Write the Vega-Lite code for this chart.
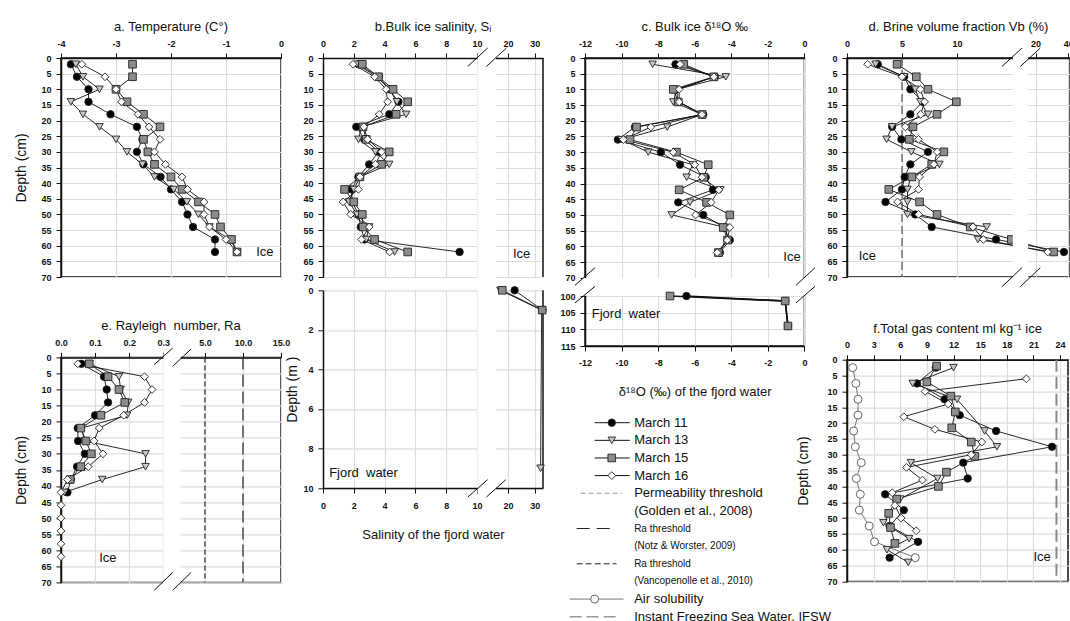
{
"$schema":"https://vega.github.io/schema/vega-lite/v6.json",
"background":"white",
"padding":{"left":14,"top":20,"right":0,"bottom":0},
"bounds":"flush",
"spacing":262,
"datasets":{
"a":[
{"date":"March 11","depth":2,"v":-3.82},{"date":"March 11","depth":6,"v":-3.71},{"date":"March 11","depth":10,"v":-3.5},{"date":"March 11","depth":14,"v":-3.5},{"date":"March 11","depth":18,"v":-3.1},{"date":"March 11","depth":22,"v":-2.62},{"date":"March 11","depth":26,"v":-2.52},{"date":"March 11","depth":30,"v":-2.62},{"date":"March 11","depth":34,"v":-2.5},{"date":"March 11","depth":38,"v":-2.19},{"date":"March 11","depth":42,"v":-2.0},{"date":"March 11","depth":46,"v":-1.8},{"date":"March 11","depth":50,"v":-1.7},{"date":"March 11","depth":54,"v":-1.6},{"date":"March 11","depth":58,"v":-1.2},{"date":"March 11","depth":62,"v":-1.2},
{"date":"March 13","depth":2,"v":-3.73},{"date":"March 13","depth":6,"v":-3.6},{"date":"March 13","depth":10,"v":-3.3},{"date":"March 13","depth":14,"v":-3.82},{"date":"March 13","depth":18,"v":-3.6},{"date":"March 13","depth":22,"v":-3.3},{"date":"March 13","depth":26,"v":-3.0},{"date":"March 13","depth":30,"v":-2.8},{"date":"March 13","depth":34,"v":-2.52},{"date":"March 13","depth":38,"v":-2.3},{"date":"March 13","depth":42,"v":-1.95},{"date":"March 13","depth":46,"v":-1.71},{"date":"March 13","depth":50,"v":-1.5},{"date":"March 13","depth":54,"v":-1.3},{"date":"March 13","depth":58,"v":-0.92},{"date":"March 13","depth":62,"v":-0.8},
{"date":"March 15","depth":2,"v":-2.7},{"date":"March 15","depth":6,"v":-2.7},{"date":"March 15","depth":10,"v":-3.0},{"date":"March 15","depth":14,"v":-2.8},{"date":"March 15","depth":18,"v":-2.5},{"date":"March 15","depth":22,"v":-2.2},{"date":"March 15","depth":26,"v":-2.5},{"date":"March 15","depth":30,"v":-2.42},{"date":"March 15","depth":34,"v":-2.3},{"date":"March 15","depth":38,"v":-2.0},{"date":"March 15","depth":42,"v":-1.8},{"date":"March 15","depth":46,"v":-1.5},{"date":"March 15","depth":50,"v":-1.2},{"date":"March 15","depth":54,"v":-1.1},{"date":"March 15","depth":58,"v":-0.9},{"date":"March 15","depth":62,"v":-0.8},
{"date":"March 16","depth":2,"v":-3.62},{"date":"March 16","depth":6,"v":-3.2},{"date":"March 16","depth":10,"v":-3.0},{"date":"March 16","depth":14,"v":-2.9},{"date":"March 16","depth":18,"v":-2.6},{"date":"March 16","depth":22,"v":-2.4},{"date":"March 16","depth":26,"v":-2.2},{"date":"March 16","depth":30,"v":-2.3},{"date":"March 16","depth":34,"v":-2.1},{"date":"March 16","depth":38,"v":-1.8},{"date":"March 16","depth":42,"v":-1.7},{"date":"March 16","depth":46,"v":-1.4},{"date":"March 16","depth":50,"v":-1.4},{"date":"March 16","depth":54,"v":-1.3},{"date":"March 16","depth":58,"v":-1.0},{"date":"March 16","depth":62,"v":-0.8}
],
"b":[
{"date":"March 11","depth":2,"v":2.3},{"date":"March 11","depth":6,"v":3.64},{"date":"March 11","depth":10,"v":4.3},{"date":"March 11","depth":14,"v":4.9},{"date":"March 11","depth":18,"v":4.3},{"date":"March 11","depth":22,"v":2.16},{"date":"March 11","depth":26,"v":2.7},{"date":"March 11","depth":30,"v":3.6},{"date":"March 11","depth":34,"v":3.0},{"date":"March 11","depth":38,"v":2.3},{"date":"March 11","depth":42,"v":1.85},{"date":"March 11","depth":46,"v":1.9},{"date":"March 11","depth":50,"v":2.3},{"date":"March 11","depth":54,"v":2.45},{"date":"March 11","depth":58,"v":2.7},{"date":"March 11","depth":62,"v":8.87},
{"date":"March 13","depth":2,"v":2.2},{"date":"March 13","depth":6,"v":3.5},{"date":"March 13","depth":10,"v":4.3},{"date":"March 13","depth":14,"v":4.8},{"date":"March 13","depth":18,"v":5.4},{"date":"March 13","depth":22,"v":2.5},{"date":"March 13","depth":26,"v":2.3},{"date":"March 13","depth":30,"v":3.4},{"date":"March 13","depth":34,"v":4.3},{"date":"March 13","depth":38,"v":2.4},{"date":"March 13","depth":42,"v":2.0},{"date":"March 13","depth":46,"v":1.7},{"date":"March 13","depth":50,"v":2.2},{"date":"March 13","depth":54,"v":3.0},{"date":"March 13","depth":58,"v":2.8},{"date":"March 13","depth":62,"v":4.65},
{"date":"March 15","depth":2,"v":2.55},{"date":"March 15","depth":6,"v":3.6},{"date":"March 15","depth":10,"v":4.55},{"date":"March 15","depth":14,"v":5.5},{"date":"March 15","depth":18,"v":4.75},{"date":"March 15","depth":22,"v":2.6},{"date":"March 15","depth":26,"v":2.8},{"date":"March 15","depth":30,"v":4.3},{"date":"March 15","depth":34,"v":3.8},{"date":"March 15","depth":38,"v":2.4},{"date":"March 15","depth":42,"v":1.4},{"date":"March 15","depth":46,"v":2.0},{"date":"March 15","depth":50,"v":2.55},{"date":"March 15","depth":54,"v":2.6},{"date":"March 15","depth":58,"v":3.35},{"date":"March 15","depth":62,"v":5.5},
{"date":"March 16","depth":2,"v":1.95},{"date":"March 16","depth":6,"v":3.35},{"date":"March 16","depth":10,"v":4.1},{"date":"March 16","depth":14,"v":4.2},{"date":"March 16","depth":18,"v":3.65},{"date":"March 16","depth":22,"v":2.65},{"date":"March 16","depth":26,"v":2.9},{"date":"March 16","depth":30,"v":3.8},{"date":"March 16","depth":34,"v":3.4},{"date":"March 16","depth":38,"v":2.4},{"date":"March 16","depth":42,"v":2.3},{"date":"March 16","depth":46,"v":1.3},{"date":"March 16","depth":50,"v":1.8},{"date":"March 16","depth":54,"v":3.0},{"date":"March 16","depth":58,"v":2.5},{"date":"March 16","depth":62,"v":4.33}
],
"bw":[
{"date":"March 11","depth":0,"v":22.5},{"date":"March 11","depth":1,"v":32.9},
{"date":"March 13","depth":0,"v":17.2},{"date":"March 13","depth":1,"v":32.6},{"date":"March 13","depth":9,"v":32.2},
{"date":"March 15","depth":0,"v":17.9},{"date":"March 15","depth":1,"v":32.8}
],
"c":[
{"date":"March 11","depth":2,"v":-7.05},{"date":"March 11","depth":6,"v":-4.9},{"date":"March 11","depth":10,"v":-7.0},{"date":"March 11","depth":14,"v":-6.9},{"date":"March 11","depth":18,"v":-5.53},{"date":"March 11","depth":22,"v":-9.27},{"date":"March 11","depth":26,"v":-10.2},{"date":"March 11","depth":30,"v":-7.85},{"date":"March 11","depth":34,"v":-6.8},{"date":"March 11","depth":38,"v":-5.4},{"date":"March 11","depth":42,"v":-5.0},{"date":"March 11","depth":46,"v":-6.9},{"date":"March 11","depth":50,"v":-5.53},{"date":"March 11","depth":54,"v":-4.4},{"date":"March 11","depth":58,"v":-4.08},{"date":"March 11","depth":62,"v":-4.62},
{"date":"March 13","depth":2,"v":-8.3},{"date":"March 13","depth":6,"v":-4.3},{"date":"March 13","depth":10,"v":-7.0},{"date":"March 13","depth":14,"v":-7.17},{"date":"March 13","depth":18,"v":-5.6},{"date":"March 13","depth":22,"v":-7.5},{"date":"March 13","depth":26,"v":-10.0},{"date":"March 13","depth":30,"v":-8.54},{"date":"March 13","depth":34,"v":-6.1},{"date":"March 13","depth":38,"v":-6.44},{"date":"March 13","depth":42,"v":-4.6},{"date":"March 13","depth":46,"v":-6.26},{"date":"March 13","depth":50,"v":-7.26},{"date":"March 13","depth":54,"v":-4.3},{"date":"March 13","depth":58,"v":-4.2},{"date":"March 13","depth":62,"v":-4.7},
{"date":"March 15","depth":2,"v":-6.6},{"date":"March 15","depth":6,"v":-4.95},{"date":"March 15","depth":10,"v":-7.17},{"date":"March 15","depth":14,"v":-6.9},{"date":"March 15","depth":18,"v":-5.6},{"date":"March 15","depth":22,"v":-9.18},{"date":"March 15","depth":26,"v":-9.54},{"date":"March 15","depth":30,"v":-7.0},{"date":"March 15","depth":34,"v":-5.26},{"date":"March 15","depth":38,"v":-5.5},{"date":"March 15","depth":42,"v":-6.85},{"date":"March 15","depth":46,"v":-5.35},{"date":"March 15","depth":50,"v":-4.08},{"date":"March 15","depth":54,"v":-4.44},{"date":"March 15","depth":58,"v":-4.2},{"date":"March 15","depth":62,"v":-4.7},
{"date":"March 16","depth":2,"v":-6.8},{"date":"March 16","depth":6,"v":-4.95},{"date":"March 16","depth":10,"v":-6.85},{"date":"March 16","depth":14,"v":-6.85},{"date":"March 16","depth":18,"v":-5.6},{"date":"March 16","depth":22,"v":-8.4},{"date":"March 16","depth":26,"v":-9.9},{"date":"March 16","depth":30,"v":-7.17},{"date":"March 16","depth":34,"v":-6.0},{"date":"March 16","depth":38,"v":-5.6},{"date":"March 16","depth":42,"v":-4.68},{"date":"March 16","depth":46,"v":-5.1},{"date":"March 16","depth":50,"v":-5.95},{"date":"March 16","depth":54,"v":-4.08},{"date":"March 16","depth":58,"v":-4.22},{"date":"March 16","depth":62,"v":-4.77}
],
"cw":[
{"date":"March 11","depth":100,"v":-6.45},{"date":"March 11","depth":101.5,"v":-1.05},{"date":"March 11","depth":109,"v":-0.9},
{"date":"March 15","depth":100,"v":-7.35},{"date":"March 15","depth":101.5,"v":-1.05},{"date":"March 15","depth":109,"v":-0.9}
],
"d":[
{"date":"March 11","depth":2,"v":2.8},{"date":"March 11","depth":6,"v":5.2},{"date":"March 11","depth":10,"v":5.76},{"date":"March 11","depth":14,"v":6.9},{"date":"March 11","depth":18,"v":5.76},{"date":"March 11","depth":22,"v":4.1},{"date":"March 11","depth":26,"v":4.94},{"date":"March 11","depth":30,"v":7.36},{"date":"March 11","depth":34,"v":5.76},{"date":"March 11","depth":38,"v":5.24},{"date":"March 11","depth":42,"v":5.0},{"date":"March 11","depth":46,"v":3.5},{"date":"March 11","depth":50,"v":6.2},{"date":"March 11","depth":54,"v":7.7},{"date":"March 11","depth":58,"v":13.55},{"date":"March 11","depth":62,"v":37.3},
{"date":"March 13","depth":2,"v":2.6},{"date":"March 13","depth":6,"v":5.2},{"date":"March 13","depth":10,"v":6.2},{"date":"March 13","depth":14,"v":6.67},{"date":"March 13","depth":18,"v":7.36},{"date":"March 13","depth":22,"v":4.1},{"date":"March 13","depth":26,"v":3.6},{"date":"March 13","depth":30,"v":5.85},{"date":"March 13","depth":34,"v":8.4},{"date":"March 13","depth":38,"v":5.8},{"date":"March 13","depth":42,"v":5.5},{"date":"March 13","depth":46,"v":5.5},{"date":"March 13","depth":50,"v":5.5},{"date":"March 13","depth":54,"v":12.7},{"date":"March 13","depth":58,"v":11.9},{"date":"March 13","depth":62,"v":29.5},
{"date":"March 15","depth":2,"v":4.55},{"date":"March 15","depth":6,"v":6.3},{"date":"March 15","depth":10,"v":7.36},{"date":"March 15","depth":14,"v":9.94},{"date":"March 15","depth":18,"v":8.18},{"date":"March 15","depth":22,"v":6.0},{"date":"March 15","depth":26,"v":5.67},{"date":"March 15","depth":30,"v":8.8},{"date":"March 15","depth":34,"v":7.7},{"date":"March 15","depth":38,"v":5.9},{"date":"March 15","depth":42,"v":3.8},{"date":"March 15","depth":46,"v":6.6},{"date":"March 15","depth":50,"v":8.18},{"date":"March 15","depth":54,"v":11.2},{"date":"March 15","depth":58,"v":14.94},{"date":"March 15","depth":62,"v":31},
{"date":"March 16","depth":2,"v":1.88},{"date":"March 16","depth":6,"v":5.0},{"date":"March 16","depth":10,"v":6.67},{"date":"March 16","depth":14,"v":7.06},{"date":"March 16","depth":18,"v":6.7},{"date":"March 16","depth":22,"v":5.3},{"date":"March 16","depth":26,"v":6.5},{"date":"March 16","depth":30,"v":8.2},{"date":"March 16","depth":34,"v":7.9},{"date":"March 16","depth":38,"v":6.6},{"date":"March 16","depth":42,"v":6.5},{"date":"March 16","depth":46,"v":4.6},{"date":"March 16","depth":50,"v":6.5},{"date":"March 16","depth":54,"v":11.45},{"date":"March 16","depth":58,"v":12.4},{"date":"March 16","depth":62,"v":27.4}
],
"e":[
{"date":"March 11","depth":2,"v":0.06},{"date":"March 11","depth":6,"v":0.126},{"date":"March 11","depth":10,"v":0.134},{"date":"March 11","depth":14,"v":0.138},{"date":"March 11","depth":18,"v":0.1},{"date":"March 11","depth":22,"v":0.049},{"date":"March 11","depth":26,"v":0.05},{"date":"March 11","depth":30,"v":0.07},{"date":"March 11","depth":34,"v":0.047},{"date":"March 11","depth":38,"v":0.029},{"date":"March 11","depth":42,"v":0.019},
{"date":"March 13","depth":2,"v":0.083},{"date":"March 13","depth":6,"v":0.17},{"date":"March 13","depth":10,"v":0.175},{"date":"March 13","depth":14,"v":0.197},{"date":"March 13","depth":18,"v":0.194},{"date":"March 13","depth":22,"v":0.06},{"date":"March 13","depth":26,"v":0.07},{"date":"March 13","depth":30,"v":0.248},{"date":"March 13","depth":34,"v":0.248},{"date":"March 13","depth":38,"v":0.121},{"date":"March 13","depth":42,"v":0.01},
{"date":"March 15","depth":2,"v":0.083},{"date":"March 15","depth":6,"v":0.138},{"date":"March 15","depth":10,"v":0.17},{"date":"March 15","depth":14,"v":0.187},{"date":"March 15","depth":18,"v":0.117},{"date":"March 15","depth":22,"v":0.058},{"date":"March 15","depth":26,"v":0.073},{"date":"March 15","depth":30,"v":0.089},{"date":"March 15","depth":34,"v":0.058},{"date":"March 15","depth":38,"v":0.027},
{"date":"March 16","depth":2,"v":0.049},{"date":"March 16","depth":6,"v":0.245},{"date":"March 16","depth":10,"v":0.267},{"date":"March 16","depth":14,"v":0.245},{"date":"March 16","depth":18,"v":0.184},{"date":"March 16","depth":22,"v":0.112},{"date":"March 16","depth":26,"v":0.097},{"date":"March 16","depth":30,"v":0.123},{"date":"March 16","depth":34,"v":0.08},{"date":"March 16","depth":38,"v":0.019},{"date":"March 16","depth":42,"v":0.0},{"date":"March 16","depth":46,"v":0.0},{"date":"March 16","depth":50,"v":0.0},{"date":"March 16","depth":54,"v":0.0},{"date":"March 16","depth":58,"v":0.0},{"date":"March 16","depth":62,"v":0.0}
],
"f":[
{"date":"March 11","depth":2.5,"v":10.0},{"date":"March 11","depth":7.5,"v":7.9},{"date":"March 11","depth":12.5,"v":11.0},{"date":"March 11","depth":17.5,"v":12.7},{"date":"March 11","depth":22.5,"v":16.8},{"date":"March 11","depth":27.5,"v":23.1},{"date":"March 11","depth":32.5,"v":13.1},{"date":"March 11","depth":37.5,"v":13.6},{"date":"March 11","depth":42.5,"v":4.3},{"date":"March 11","depth":47.5,"v":6.4},{"date":"March 11","depth":52.5,"v":4.8},{"date":"March 11","depth":57.5,"v":8.0},{"date":"March 11","depth":62.5,"v":4.8},
{"date":"March 13","depth":2.5,"v":12.0},{"date":"March 13","depth":7.5,"v":7.4},{"date":"March 13","depth":12.5,"v":12.4},{"date":"March 13","depth":22.5,"v":15.5},{"date":"March 13","depth":27.5,"v":16.9},{"date":"March 13","depth":32.5,"v":7.2},{"date":"March 13","depth":37.5,"v":10.2},{"date":"March 13","depth":44,"v":6.0},{"date":"March 13","depth":51.5,"v":4.1},{"date":"March 13","depth":56.5,"v":7.0},{"date":"March 13","depth":60,"v":4.5},{"date":"March 13","depth":64,"v":6.9},
{"date":"March 15","depth":2,"v":10.1},{"date":"March 15","depth":7,"v":9.0},{"date":"March 15","depth":11.5,"v":11.7},{"date":"March 15","depth":16.5,"v":12.2},{"date":"March 15","depth":21.5,"v":11.8},{"date":"March 15","depth":26,"v":14.0},{"date":"March 15","depth":30.5,"v":14.4},{"date":"March 15","depth":35.5,"v":11.2},{"date":"March 15","depth":40,"v":10.3},{"date":"March 15","depth":44,"v":5.6},{"date":"March 15","depth":48.5,"v":4.7},{"date":"March 15","depth":53,"v":4.9},{"date":"March 15","depth":58,"v":5.4},
{"date":"March 16","depth":6,"v":20.2},{"date":"March 16","depth":10,"v":8.8},{"date":"March 16","depth":14,"v":11.4},{"date":"March 16","depth":18,"v":6.4},{"date":"March 16","depth":22,"v":9.9},{"date":"March 16","depth":26,"v":15.2},{"date":"March 16","depth":30,"v":14.0},{"date":"March 16","depth":34,"v":6.7},{"date":"March 16","depth":38,"v":8.5},{"date":"March 16","depth":42,"v":5.1},{"date":"March 16","depth":46,"v":5.4},{"date":"March 16","depth":50,"v":6.1},{"date":"March 16","depth":54,"v":7.8}
],
"fs":[
{"depth":2.5,"v":0.64},{"depth":7.5,"v":1.0},{"depth":12.5,"v":1.24},{"depth":17.5,"v":1.24},{"depth":22.5,"v":0.75},{"depth":27.5,"v":0.94},{"depth":32.5,"v":1.6},{"depth":37.5,"v":1.05},{"depth":42.5,"v":1.5},{"depth":47.5,"v":1.39},{"depth":52.5,"v":2.5},{"depth":57.5,"v":3.1},{"depth":62.5,"v":7.7}
],
"legend":[
{"id":"m11","text":"March 11","kind":"series","date":"March 11"},
{"id":"m13","text":"March 13","kind":"series","date":"March 13"},
{"id":"m15","text":"March 15","kind":"series","date":"March 15"},
{"id":"m16","text":"March 16","kind":"series","date":"March 16"},
{"id":"perm","text":"Permeability threshold","kind":"perm"},
{"id":"perm2","text":"(Golden et al., 2008)","kind":"note"},
{"id":"nw","text":"Ra threshold","kind":"ranw"},
{"id":"nw2","text":"(Notz & Worster, 2009)","kind":"small"},
{"id":"va","text":"Ra threshold","kind":"rava"},
{"id":"va2","text":"(Vancopenolle et al., 2010)","kind":"small"},
{"id":"air","text":"Air solubility","kind":"air"},
{"id":"ifsw","text":"Instant Freezing Sea Water, IFSW","kind":"ifsw"}
]
},
"hconcat":[
{"bounds":"flush","spacing":80.4,"vconcat":[
{
"width":220,"height":219,
"title":"a. Temperature (C°)",
"data":{"name":"a"},
"layer":[
{"mark":{"type":"line","color":"#111111","strokeWidth":0.9},
"encoding":{
"x":{"field":"v","type":"quantitative","scale":{"domain":[-4,0],"nice":false,"zero":false},"axis":{"orient":"top","values":[-4,-3,-2,-1,0],"tickCount":100,"format":"d","labelOverlap":false,"title":null,"labelExpr":"replace(datum.label, '−', '-')"}},
"y":{"field":"depth","type":"quantitative","scale":{"domain":[0,70],"reverse":true,"nice":false,"zero":false},"axis":{"values":[0,5,10,15,20,25,30,35,40,45,50,55,60,65,70],"tickCount":100,"format":"d","labelOverlap":false,"title":"Depth (cm)"}},
"detail":{"field":"date"},"order":{"field":"depth"}}},
{"mark":{"type":"point","filled":true,"stroke":"#222222","strokeWidth":0.9,"opacity":1},
"encoding":{"x":{"field":"v","type":"quantitative"},"y":{"field":"depth","type":"quantitative"},
"shape":{"field":"date","type":"nominal","scale":{"domain":["March 11","March 13","March 15","March 16"],"range":["circle","triangle-down","square","diamond"]},"legend":null},
"fill":{"field":"date","type":"nominal","scale":{"domain":["March 11","March 13","March 15","March 16"],"range":["#000000","#c8c8c8","#8c8c8c","#ffffff"]},"legend":null},
"size":{"field":"date","type":"nominal","scale":{"domain":["March 11","March 13","March 15","March 16"],"range":[55,60,50,80]},"legend":null}}},
{"data":{"values":[{}]},"mark":{"type":"text","text":"Ice","align":"left","baseline":"middle","fontSize":13},"encoding":{"x":{"datum":-0.45},"y":{"datum":62}}}
]
},
{
"width":220,"height":225,
"title":"e. Rayleigh\u00a0\u00a0number, Ra",
"data":{"name":"e"},
"layer":[
{"mark":{"type":"line","color":"#111111","strokeWidth":0.9},
"encoding":{
"x":{"field":"v","type":"quantitative","scale":{"domain":[0,0.3,1.85,15],"range":[0,102.3,120,220],"nice":false,"zero":false},"axis":{"orient":"top","values":[0,0.1,0.2,0.3,5,10,15],"tickCount":100,"format":".1f","labelOverlap":false,"title":null}},
"y":{"field":"depth","type":"quantitative","scale":{"domain":[0,70],"reverse":true,"nice":false,"zero":false},"axis":{"values":[0,5,10,15,20,25,30,35,40,45,50,55,60,65,70],"tickCount":100,"format":"d","labelOverlap":false,"title":"Depth (cm)"}},
"detail":{"field":"date"},"order":{"field":"depth"}}},
{"data":{"values":[{}]},"mark":{"type":"rule","color":"#222222","strokeDash":[5,3],"strokeWidth":1.2},"encoding":{"x":{"datum":5}}},
{"data":{"values":[{}]},"mark":{"type":"rule","color":"#222222","strokeDash":[12,5],"strokeWidth":1.2},"encoding":{"x":{"datum":10}}},
{"mark":{"type":"point","filled":true,"stroke":"#222222","strokeWidth":0.9,"opacity":1},
"encoding":{"x":{"field":"v","type":"quantitative"},"y":{"field":"depth","type":"quantitative"},
"shape":{"field":"date","type":"nominal","scale":{"domain":["March 11","March 13","March 15","March 16"],"range":["circle","triangle-down","square","diamond"]},"legend":null},
"fill":{"field":"date","type":"nominal","scale":{"domain":["March 11","March 13","March 15","March 16"],"range":["#000000","#c8c8c8","#8c8c8c","#ffffff"]},"legend":null},
"size":{"field":"date","type":"nominal","scale":{"domain":["March 11","March 13","March 15","March 16"],"range":[55,60,50,80]},"legend":null}}},
{"data":{"values":[{}]},"mark":{"type":"rect","color":"white"},"encoding":{"x":{"datum":0.31},"x2":{"datum":1.82},"y":{"datum":-1.2},"y2":{"datum":71.2}}},
{"data":{"values":[{}]},"mark":{"type":"rule","color":"#111111","strokeWidth":1},"encoding":{"x":{"datum":0.273},"x2":{"datum":1.12},"y":{"datum":2.3},"y2":{"datum":-2.9}}},
{"data":{"values":[{}]},"mark":{"type":"rule","color":"#111111","strokeWidth":1},"encoding":{"x":{"datum":1.12},"x2":{"datum":3.17},"y":{"datum":2.8},"y2":{"datum":-2.6}}},
{"data":{"values":[{}]},"mark":{"type":"rule","color":"#111111","strokeWidth":1},"encoding":{"x":{"datum":0.273},"x2":{"datum":1.12},"y":{"datum":72.5},"y2":{"datum":66.9}}},
{"data":{"values":[{}]},"mark":{"type":"rule","color":"#111111","strokeWidth":1},"encoding":{"x":{"datum":1.12},"x2":{"datum":3.17},"y":{"datum":72.5},"y2":{"datum":66.9}}},
{"data":{"values":[{}]},"mark":{"type":"text","text":"Ice","align":"left","baseline":"middle","fontSize":13},"encoding":{"x":{"datum":0.112},"y":{"datum":62.4}}}
]
}
]},
{"bounds":"flush","spacing":13.3,"vconcat":[
{
"width":220,"height":219,
"title":"b.Bulk ice salinity, Sᵢ",
"view":{"stroke":null},
"data":{"name":"b"},
"layer":[
{"mark":{"type":"line","color":"#111111","strokeWidth":0.9},
"encoding":{
"x":{"field":"v","type":"quantitative","scale":{"domain":[0,10,15.7,33.1],"range":[0,154,173.4,220],"nice":false,"zero":false},"axis":{"orient":"top","values":[0,2,4,6,8,10,20,30],"tickCount":100,"format":"d","labelOverlap":false,"title":null}},
"y":{"field":"depth","type":"quantitative","scale":{"domain":[0,70],"reverse":true,"nice":false,"zero":false},"axis":{"values":[0,5,10,15,20,25,30,35,40,45,50,55,60,65,70],"tickCount":100,"format":"d","labelOverlap":false,"title":null}},
"detail":{"field":"date"},"order":{"field":"depth"}}},
{"data":{"values":[{}]},"mark":{"type":"rule","color":"#111111","strokeWidth":1.5},"encoding":{"x":{"datum":33.1}}},
{"mark":{"type":"point","filled":true,"stroke":"#222222","strokeWidth":0.9,"opacity":1},
"encoding":{"x":{"field":"v","type":"quantitative"},"y":{"field":"depth","type":"quantitative"},
"shape":{"field":"date","type":"nominal","scale":{"domain":["March 11","March 13","March 15","March 16"],"range":["circle","triangle-down","square","diamond"]},"legend":null},
"fill":{"field":"date","type":"nominal","scale":{"domain":["March 11","March 13","March 15","March 16"],"range":["#000000","#c8c8c8","#8c8c8c","#ffffff"]},"legend":null},
"size":{"field":"date","type":"nominal","scale":{"domain":["March 11","March 13","March 15","March 16"],"range":[55,60,50,80]},"legend":null}}},
{"data":{"values":[{}]},"mark":{"type":"rect","color":"white"},"encoding":{"x":{"datum":10.15},"x2":{"datum":15.55},"y":{"datum":-1.2},"y2":{"datum":71.5}}},
{"data":{"values":[{}]},"mark":{"type":"rule","color":"#111111","strokeWidth":1},"encoding":{"x":{"datum":9.4},"x2":{"datum":13.14},"y":{"datum":2.7},"y2":{"datum":-3.2}}},
{"data":{"values":[{}]},"mark":{"type":"rule","color":"#111111","strokeWidth":1},"encoding":{"x":{"datum":12.76},"x2":{"datum":19.45},"y":{"datum":2.7},"y2":{"datum":-3.2}}},
{"data":{"values":[{}]},"mark":{"type":"text","text":"Ice","align":"left","baseline":"middle","fontSize":13},"encoding":{"x":{"datum":21.9},"y":{"datum":62.5}}}
]
},
{
"width":220,"height":197.7,
"view":{"stroke":null},
"data":{"name":"bw"},
"layer":[
{"mark":{"type":"line","color":"#111111","strokeWidth":0.9},
"encoding":{
"x":{"field":"v","type":"quantitative","scale":{"domain":[0,10,15.7,33.1],"range":[0,154,173.4,220],"nice":false,"zero":false},"axis":{"orient":"bottom","values":[0,2,4,6,8,10,20,30],"tickCount":100,"format":"d","labelOverlap":false,"labelPadding":8,"title":"Salinity of the fjord water","titleFontSize":13,"titlePadding":18}},
"y":{"field":"depth","type":"quantitative","scale":{"domain":[0,10],"reverse":true,"nice":false,"zero":false},"axis":{"values":[0,2,4,6,8,10],"tickCount":100,"format":"d","labelOverlap":false,"title":"Depth (m )","titlePadding":3}},
"detail":{"field":"date"},"order":{"field":"depth"}}},
{"data":{"values":[{}]},"mark":{"type":"rule","color":"#111111","strokeWidth":1.5},"encoding":{"x":{"datum":33.1}}},
{"mark":{"type":"point","filled":true,"stroke":"#222222","strokeWidth":0.9,"opacity":1},
"encoding":{"x":{"field":"v","type":"quantitative"},"y":{"field":"depth","type":"quantitative"},
"shape":{"field":"date","type":"nominal","scale":{"domain":["March 11","March 13","March 15","March 16"],"range":["circle","triangle-down","square","diamond"]},"legend":null},
"fill":{"field":"date","type":"nominal","scale":{"domain":["March 11","March 13","March 15","March 16"],"range":["#000000","#c8c8c8","#8c8c8c","#ffffff"]},"legend":null},
"size":{"field":"date","type":"nominal","scale":{"domain":["March 11","March 13","March 15","March 16"],"range":[55,60,50,80]},"legend":null}}},
{"data":{"values":[{}]},"mark":{"type":"rect","color":"white"},"encoding":{"x":{"datum":10.15},"x2":{"datum":15.55},"y":{"datum":-0.2},"y2":{"datum":10.25}}},
{"data":{"values":[{}]},"mark":{"type":"rule","color":"#111111","strokeWidth":1},"encoding":{"x":{"datum":9.4},"x2":{"datum":13.1},"y":{"datum":10.46},"y2":{"datum":9.58}}},
{"data":{"values":[{}]},"mark":{"type":"rule","color":"#111111","strokeWidth":1},"encoding":{"x":{"datum":12.76},"x2":{"datum":19.2},"y":{"datum":10.46},"y2":{"datum":9.58}}},
{"data":{"values":[{}]},"mark":{"type":"text","text":"Fjord\u00a0\u00a0water","align":"left","baseline":"middle","fontSize":13},"encoding":{"x":{"datum":0.4},"y":{"datum":9.22}}}
]
}
]},
{"bounds":"flush","spacing":76.7,"vconcat":[
{
"width":219.4,"height":288,
"title":"c. Bulk ice δ¹⁸O ‰",
"resolve":{"axis":{"x":"independent"}},
"layer":[
{"data":{"name":"c"},
"layer":[
{"mark":{"type":"line","color":"#111111","strokeWidth":0.9},
"encoding":{
"x":{"field":"v","type":"quantitative","scale":{"domain":[-12,0],"nice":false,"zero":false},"axis":{"orient":"top","values":[-12,-10,-8,-6,-4,-2,0],"tickCount":100,"format":"d","labelOverlap":false,"title":null,"labelExpr":"replace(datum.label, '−', '-')"}},
"y":{"field":"depth","type":"quantitative","scale":{"domain":[0,70,100,115],"range":[0,219.7,238,288],"nice":false,"zero":false},"axis":{"values":[0,5,10,15,20,25,30,35,40,45,50,55,60,65,70,100,105,110,115],"tickCount":100,"format":"d","labelOverlap":false,"title":null}},
"detail":{"field":"date"},"order":{"field":"depth"}}},
{"mark":{"type":"point","filled":true,"stroke":"#222222","strokeWidth":0.9,"opacity":1},
"encoding":{"x":{"field":"v","type":"quantitative"},"y":{"field":"depth","type":"quantitative"},
"shape":{"field":"date","type":"nominal","scale":{"domain":["March 11","March 13","March 15","March 16"],"range":["circle","triangle-down","square","diamond"]},"legend":null},
"fill":{"field":"date","type":"nominal","scale":{"domain":["March 11","March 13","March 15","March 16"],"range":["#000000","#c8c8c8","#8c8c8c","#ffffff"]},"legend":null},
"size":{"field":"date","type":"nominal","scale":{"domain":["March 11","March 13","March 15","March 16"],"range":[55,60,50,80]},"legend":null}}},
{"data":{"values":[{}]},"mark":{"type":"rect","color":"white"},"encoding":{"x":{"datum":-12.1},"x2":{"datum":0.12},"y":{"datum":70.5},"y2":{"datum":99.5}}},
{"data":{"values":[{}]},"mark":{"type":"rule","color":"#111111","strokeWidth":1},"encoding":{"x":{"datum":-12.55},"x2":{"datum":-11.45},"y":{"datum":82.5},"y2":{"datum":66.8}}},
{"data":{"values":[{}]},"mark":{"type":"rule","color":"#111111","strokeWidth":1},"encoding":{"x":{"datum":-12.55},"x2":{"datum":-11.45},"y":{"datum":102.1},"y2":{"datum":84.1}}},
{"data":{"values":[{}]},"mark":{"type":"rule","color":"#111111","strokeWidth":1},"encoding":{"x":{"datum":-0.46},"x2":{"datum":0.58},"y":{"datum":82.5},"y2":{"datum":66.8}}},
{"data":{"values":[{}]},"mark":{"type":"rule","color":"#111111","strokeWidth":1},"encoding":{"x":{"datum":-0.46},"x2":{"datum":0.58},"y":{"datum":102.1},"y2":{"datum":84.1}}},
{"data":{"values":[{}]},"mark":{"type":"text","text":"Ice","align":"left","baseline":"middle","fontSize":13},"encoding":{"x":{"datum":-1.15},"y":{"datum":63.4}}},
{"data":{"values":[{}]},"mark":{"type":"text","text":"Fjord\u00a0\u00a0water","align":"left","baseline":"middle","fontSize":13},"encoding":{"x":{"datum":-11.63},"y":{"datum":105.5}}}
]},
{"data":{"name":"cw"},
"layer":[
{"mark":{"type":"line","color":"#111111","strokeWidth":1.6},
"encoding":{
"x":{"field":"v","type":"quantitative","scale":{"domain":[-12,0],"nice":false,"zero":false},"axis":{"orient":"bottom","values":[-12,-10,-8,-6,-4,-2,0],"tickCount":100,"format":"d","labelOverlap":false,"title":"δ¹⁸O (‰) of the fjord water","grid":false,"labelPadding":7,"titleFontSize":13,"titlePadding":18,"labelExpr":"replace(datum.label, '−', '-')"}},
"y":{"field":"depth","type":"quantitative"},
"detail":{"field":"date"},"order":{"field":"depth"}}},
{"mark":{"type":"point","filled":true,"stroke":"#222222","strokeWidth":0.9,"opacity":1},
"encoding":{"x":{"field":"v","type":"quantitative"},"y":{"field":"depth","type":"quantitative"},
"shape":{"field":"date","type":"nominal","scale":{"domain":["March 11","March 13","March 15","March 16"],"range":["circle","triangle-down","square","diamond"]},"legend":null},
"fill":{"field":"date","type":"nominal","scale":{"domain":["March 11","March 13","March 15","March 16"],"range":["#000000","#c8c8c8","#8c8c8c","#ffffff"]},"legend":null},
"size":{"field":"date","type":"nominal","scale":{"domain":["March 11","March 13","March 15","March 16"],"range":[55,60,50,80]},"legend":null}}}
]}
]
},
{
"width":219.4,"height":194,
"view":{"stroke":null},
"data":{"name":"legend"},
"layer":[
{"transform":[{"filter":"datum.kind == 'series'"}],"mark":{"type":"rule","color":"#111111","strokeWidth":1},
"encoding":{"x":{"datum":4.4,"scale":{"domain":[0,100],"nice":false,"zero":false},"axis":null},"x2":{"datum":20.4},
"y":{"field":"id","type":"nominal","scale":{"type":"point","padding":0,"domain":["m11","m13","m15","m16","perm","perm2","nw","nw2","va","va2","air","ifsw"]},"axis":null}}},
{"transform":[{"filter":"datum.kind == 'series'"}],"mark":{"type":"point","filled":true,"stroke":"#222222","strokeWidth":0.9,"opacity":1},
"encoding":{"x":{"datum":12.2},"y":{"field":"id","type":"nominal"},
"shape":{"field":"date","type":"nominal","scale":{"domain":["March 11","March 13","March 15","March 16"],"range":["circle","triangle-down","square","diamond"]},"legend":null},
"fill":{"field":"date","type":"nominal","scale":{"domain":["March 11","March 13","March 15","March 16"],"range":["#000000","#c8c8c8","#8c8c8c","#ffffff"]},"legend":null},
"size":{"field":"date","type":"nominal","scale":{"domain":["March 11","March 13","March 15","March 16"],"range":[55,60,50,80]},"legend":null}}},
{"transform":[{"filter":"datum.kind == 'perm'"}],"mark":{"type":"rule","color":"#999999","strokeDash":[5,3],"strokeWidth":1},"encoding":{"x":{"datum":-2},"x2":{"datum":16.7},"y":{"field":"id","type":"nominal"}}},
{"transform":[{"filter":"datum.kind == 'ranw'"}],"mark":{"type":"rule","color":"#222222","strokeDash":[13,7],"strokeWidth":1},"encoding":{"x":{"datum":-3.8},"x2":{"datum":14.4},"y":{"field":"id","type":"nominal"}}},
{"transform":[{"filter":"datum.kind == 'rava'"}],"mark":{"type":"rule","color":"#222222","strokeDash":[6,3],"strokeWidth":1},"encoding":{"x":{"datum":-3.8},"x2":{"datum":14.4},"y":{"field":"id","type":"nominal"}}},
{"transform":[{"filter":"datum.kind == 'air'"}],"mark":{"type":"rule","color":"#777777","strokeWidth":1},"encoding":{"x":{"datum":-7},"x2":{"datum":17.6},"y":{"field":"id","type":"nominal"}}},
{"transform":[{"filter":"datum.kind == 'air'"}],"mark":{"type":"point","filled":true,"fill":"white","stroke":"#666666","strokeWidth":1,"size":64,"shape":"circle","opacity":1},"encoding":{"x":{"datum":4.4},"y":{"field":"id","type":"nominal"}}},
{"transform":[{"filter":"datum.kind == 'ifsw'"}],"mark":{"type":"rule","color":"#999999","strokeDash":[12,5],"strokeWidth":1.5},"encoding":{"x":{"datum":-7},"x2":{"datum":14.4},"y":{"field":"id","type":"nominal"}}},
{"transform":[{"filter":"indexof(['series','perm','note','air','ifsw'], datum.kind) >= 0"}],"mark":{"type":"text","align":"left","baseline":"middle","fontSize":13,"color":"#111111"},"encoding":{"x":{"datum":22.4},"y":{"field":"id","type":"nominal"},"text":{"field":"text"}}},
{"transform":[{"filter":"indexof(['ranw','rava','small'], datum.kind) >= 0"}],"mark":{"type":"text","align":"left","baseline":"middle","fontSize":10,"color":"#111111"},"encoding":{"x":{"datum":22.4},"y":{"field":"id","type":"nominal"},"text":{"field":"text"}}}
]
}
]},
{"bounds":"flush","spacing":82.7,"vconcat":[
{
"width":223,"height":219,
"title":"d. Brine volume fraction Vb (%)",
"data":{"name":"d"},
"layer":[
{"mark":{"type":"line","color":"#111111","strokeWidth":0.9},
"encoding":{
"x":{"field":"v","type":"quantitative","scale":{"domain":[0,15,16,41],"range":[0,165,182,223],"nice":false,"zero":false},"axis":{"orient":"top","values":[0,5,10,20,40],"tickCount":100,"format":"d","labelOverlap":false,"title":null}},
"y":{"field":"depth","type":"quantitative","scale":{"domain":[0,70],"reverse":true,"nice":false,"zero":false},"axis":{"values":[0,5,10,15,20,25,30,35,40,45,50,55,60,65,70],"tickCount":100,"format":"d","labelOverlap":false,"title":null}},
"detail":{"field":"date"},"order":{"field":"depth"}}},
{"data":{"values":[{}]},"mark":{"type":"rule","color":"#333333","strokeDash":[8,4],"strokeWidth":1},"encoding":{"x":{"datum":5}}},
{"mark":{"type":"point","filled":true,"stroke":"#222222","strokeWidth":0.9,"opacity":1},
"encoding":{"x":{"field":"v","type":"quantitative"},"y":{"field":"depth","type":"quantitative"},
"shape":{"field":"date","type":"nominal","scale":{"domain":["March 11","March 13","March 15","March 16"],"range":["circle","triangle-down","square","diamond"]},"legend":null},
"fill":{"field":"date","type":"nominal","scale":{"domain":["March 11","March 13","March 15","March 16"],"range":["#000000","#c8c8c8","#8c8c8c","#ffffff"]},"legend":null},
"size":{"field":"date","type":"nominal","scale":{"domain":["March 11","March 13","March 15","March 16"],"range":[55,60,50,80]},"legend":null}}},
{"data":{"values":[{}]},"mark":{"type":"rect","color":"white"},"encoding":{"x":{"datum":15.05},"x2":{"datum":15.95},"y":{"datum":-1.2},"y2":{"datum":71.2}}},
{"data":{"values":[{}]},"mark":{"type":"rule","color":"#111111","strokeWidth":1},"encoding":{"x":{"datum":14.09},"x2":{"datum":15.59},"y":{"datum":2.7},"y2":{"datum":-3.2}}},
{"data":{"values":[{}]},"mark":{"type":"rule","color":"#111111","strokeWidth":1},"encoding":{"x":{"datum":15.49},"x2":{"datum":22.9},"y":{"datum":2.7},"y2":{"datum":-3.2}}},
{"data":{"values":[{}]},"mark":{"type":"rule","color":"#111111","strokeWidth":1},"encoding":{"x":{"datum":14.09},"x2":{"datum":15.59},"y":{"datum":73.1},"y2":{"datum":67.0}}},
{"data":{"values":[{}]},"mark":{"type":"rule","color":"#111111","strokeWidth":1},"encoding":{"x":{"datum":15.49},"x2":{"datum":22.9},"y":{"datum":73.1},"y2":{"datum":67.0}}},
{"data":{"values":[{}]},"mark":{"type":"text","text":"Ice","align":"left","baseline":"middle","fontSize":13},"encoding":{"x":{"datum":1.06},"y":{"datum":63.3}}}
]
},
{
"width":221,"height":221.7,
"title":"f.Total gas content ml kg⁻¹ ice",
"layer":[
{"data":{"name":"f"},"mark":{"type":"line","color":"#111111","strokeWidth":0.9},
"encoding":{
"x":{"field":"v","type":"quantitative","scale":{"domain":[0,24.9],"nice":false,"zero":false},"axis":{"orient":"top","values":[0,3,6,9,12,15,18,21,24],"tickCount":100,"format":"d","labelOverlap":false,"title":null}},
"y":{"field":"depth","type":"quantitative","scale":{"domain":[0,70],"reverse":true,"nice":false,"zero":false},"axis":{"values":[0,5,10,15,20,25,30,35,40,45,50,55,60,65,70],"tickCount":100,"format":"d","labelOverlap":false,"title":"Depth (cm)","titlePadding":16}},
"detail":{"field":"date"},"order":{"field":"depth"}}},
{"data":{"values":[{}]},"mark":{"type":"rule","color":"#888888","strokeDash":[12,5],"strokeWidth":2},"encoding":{"x":{"datum":23.6}}},
{"data":{"name":"fs"},"mark":{"type":"line","color":"#777777","strokeWidth":1},"encoding":{"x":{"field":"v","type":"quantitative"},"y":{"field":"depth","type":"quantitative"},"order":{"field":"depth"}}},
{"data":{"name":"fs"},"mark":{"type":"point","filled":true,"fill":"white","stroke":"#666666","strokeWidth":1,"size":64,"shape":"circle","opacity":1},"encoding":{"x":{"field":"v","type":"quantitative"},"y":{"field":"depth","type":"quantitative"}}},
{"data":{"name":"f"},"mark":{"type":"point","filled":true,"stroke":"#222222","strokeWidth":0.9,"opacity":1},
"encoding":{"x":{"field":"v","type":"quantitative"},"y":{"field":"depth","type":"quantitative"},
"shape":{"field":"date","type":"nominal","scale":{"domain":["March 11","March 13","March 15","March 16"],"range":["circle","triangle-down","square","diamond"]},"legend":null},
"fill":{"field":"date","type":"nominal","scale":{"domain":["March 11","March 13","March 15","March 16"],"range":["#000000","#c8c8c8","#8c8c8c","#ffffff"]},"legend":null},
"size":{"field":"date","type":"nominal","scale":{"domain":["March 11","March 13","March 15","March 16"],"range":[55,60,50,80]},"legend":null}}},
{"data":{"values":[{}]},"mark":{"type":"text","text":"Ice","align":"left","baseline":"middle","fontSize":13},"encoding":{"x":{"datum":21.0},"y":{"datum":62.3}}}
]
}
]}
],
"config":{
"font":"Liberation Sans",
"view":{"stroke":"#111111","strokeWidth":1.5},
"axis":{"labelFont":"Liberation Sans","labelFontSize":9,"labelFontWeight":"bold","labelColor":"#111111","labelFlush":false,"labelOverlap":false,"domainColor":"#111111","domainWidth":1.5,"tickColor":"#111111","tickSize":5,"tickWidth":1,"labelPadding":5,"gridColor":"#dddddd","gridWidth":1.2,"titleFont":"Liberation Sans","titleFontSize":14,"titleFontWeight":"normal","titleColor":"#111111","titlePadding":12},
"title":{"font":"Liberation Sans","fontSize":13,"fontWeight":"normal","color":"#111111","anchor":"middle","frame":"group","offset":5},
"text":{"font":"Liberation Sans","color":"#111111"}
}
}
